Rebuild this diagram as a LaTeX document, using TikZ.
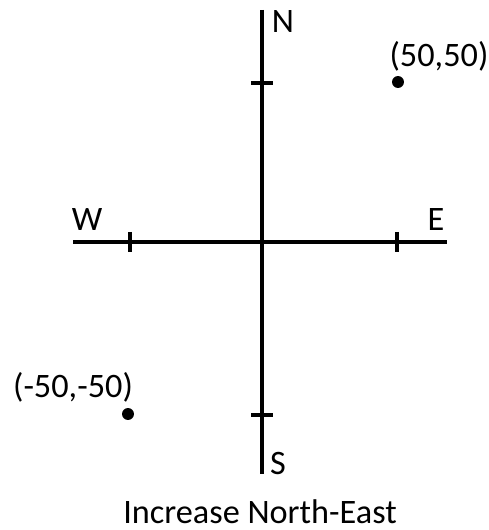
\documentclass[tikz,border=0pt]{standalone}
\usepackage{fontspec}
\setmainfont{Carlito}
\begin{document}
\begin{tikzpicture}[x=0.02cm,y=-0.02cm,font=\fontsize{19.5pt}{23pt}\selectfont,
    axis/.style={line width=2.1pt,black},
    tick/.style={line width=2.1pt,black},
    dot/.style={circle,fill=black,inner sep=0pt,minimum size=6.8pt}]
    \useasboundingbox (0,0) rectangle (488,530);

    % Ejes.
    \coordinate (n) at (262,10);
    \coordinate (s) at (262,474);
    \coordinate (w) at (73,242);
    \coordinate (e) at (447,242);
    \draw[axis] (n) -- (s);
    \draw[axis] (w) -- (e);

    % Marcas.
    \foreach \x/\name in {130/tw,397/te} {
        \coordinate (\name) at (\x,242);
        \draw[tick] ([yshift=5.7pt]\name) -- ([yshift=-5.7pt]\name);
    }
    \foreach \y/\name in {83/tn,415/ts} {
        \coordinate (\name) at (262,\y);
        \draw[tick] ([xshift=-6.2pt]\name) -- ([xshift=6.2pt]\name);
    }

    \node (lblN) at (283,22) {N};
    \node (lblS) at (278,463) {S};
    \node (lblW) at (87,220) {W};
    \node (lblE) at (436,220) {E};

    % Puntos.
    \node[dot] (pne) at (398,82) {};
    \node[dot] (psw) at (128,414) {};
    \node (lblne) at (439,56) {(50,50)};
    \node (lblsw) at (73,387) {(-50,-50)};

    \node (caption) at (260,512) {Increase North-East};
\end{tikzpicture}
\end{document}
